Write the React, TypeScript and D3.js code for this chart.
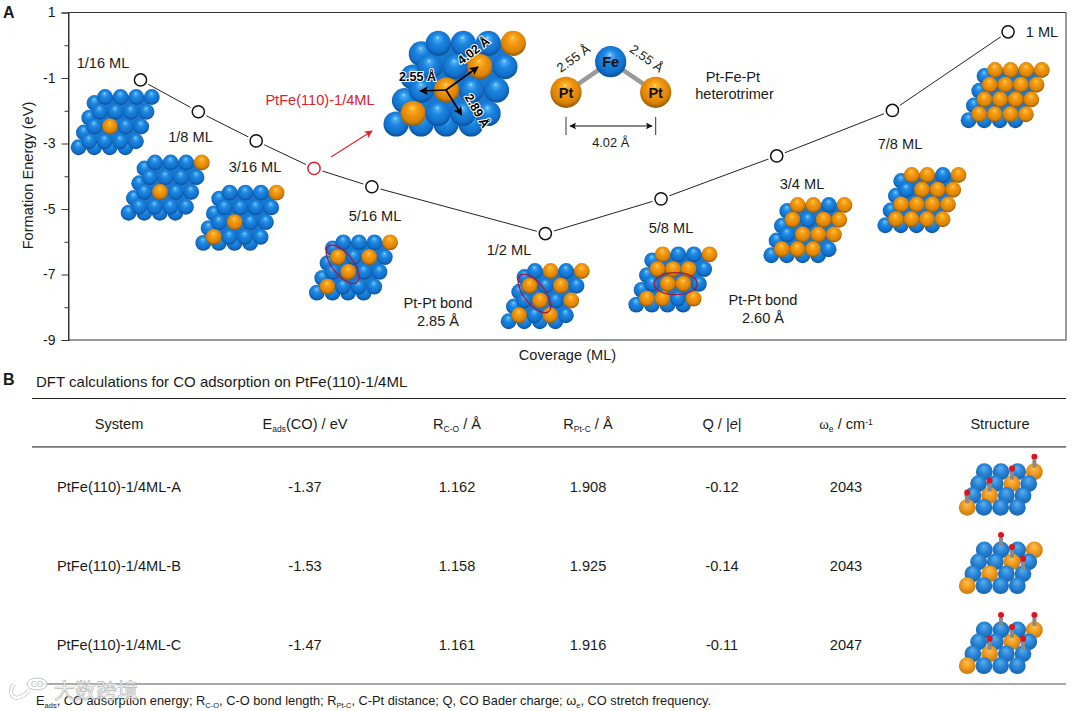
import React, { useEffect, useRef } from 'react';
import * as d3 from 'd3';

const width = 1080;
const height = 711;
const font = '"Liberation Sans", Arial, sans-serif';
const textSize = 14.6;

// Panel A data
const coverage = [1 / 16, 1 / 8, 3 / 16, 1 / 4, 5 / 16, 1 / 2, 5 / 8, 3 / 4, 7 / 8, 1];
const formationEnergy = [-1.06, -2.03, -2.92, -3.76, -4.32, -5.75, -4.69, -3.38, -1.99, 0.41];
const highlightCoverage = 1 / 4;
const yTicks = [1, 0, -1, -2, -3, -4, -5, -6, -7, -8, -9];

// Panel B data
const tableHeaders = ['System', 'Eads(CO) / eV', 'RC-O / Å', 'RPt-C / Å', 'Q / |e|', 'ωe / cm-1', 'Structure'];
const systems = ['PtFe(110)-1/4ML-A', 'PtFe(110)-1/4ML-B', 'PtFe(110)-1/4ML-C'];
const eads = ['-1.37', '-1.53', '-1.47'];
const rCO = ['1.162', '1.158', '1.161'];
const rPtC = ['1.908', '1.925', '1.916'];
const charge = ['-0.12', '-0.14', '-0.11'];
const omega = ['2043', '2043', '2047'];

// Which cells [row, col] of the 4x4 surface hold a Pt atom
type Cell = [number, number];
const pt116: Cell[] = [[2, 1]];
const pt18: Cell[] = [[0, 3], [2, 1]];
const pt316: Cell[] = [[0, 3], [2, 1], [3, 0]];
const pt14: Cell[] = [[0, 3], [1, 2], [2, 1], [3, 0]];
const pt516: Cell[] = [[0, 3], [1, 0], [1, 2], [2, 1], [3, 0]];
const pt12: Cell[] = [[0, 1], [0, 3], [1, 0], [1, 2], [2, 1], [2, 3], [3, 0], [3, 2]];
const pt58: Cell[] = [[0, 0], [0, 3], [1, 0], [1, 1], [1, 2], [2, 1], [2, 2], [3, 0], [3, 1], [3, 3]];
const pt34: Cell[] = [[0, 0], [0, 1], [0, 3], [1, 0], [1, 2], [1, 3], [2, 1], [2, 2], [2, 3], [3, 0], [3, 1], [3, 2]];
const pt78: Cell[] = [[0, 0], [0, 1], [0, 3], [1, 1], [1, 2], [1, 3], [2, 0], [2, 1], [2, 2], [2, 3], [3, 0], [3, 1], [3, 2], [3, 3]];
const pt1: Cell[] = d3.range(16).map((i) => [Math.floor(i / 4), i % 4] as Cell);

// Adsorbed CO sites for the three table structures
const coSitesA: Cell[] = [[0, 3], [1, 2], [2, 1], [3, 0]];
const coSitesB: Cell[] = [[0, 1], [1, 2], [2, 3]];
const coSitesC: Cell[] = [[0, 1], [0, 3], [1, 2], [2, 1], [2, 3]];

const App: React.FC = () => {
  const ref = useRef<SVGSVGElement | null>(null);

  useEffect(() => {
    if (!ref.current) return;
    const svg = d3.select(ref.current);
    svg.selectAll('*').remove();
    svg.attr('viewBox', `0 0 ${width} ${height}`);
    svg.style('font-family', font);

    const defs = svg.append('defs');

    // sphere shading
    const sphereGrad = (id: string, stops: [number, string][]) => {
      const g = defs.append('radialGradient').attr('id', id)
        .attr('cx', 0.5).attr('cy', 0.44).attr('r', 0.56)
        .attr('fx', 0.47).attr('fy', 0.27);
      stops.forEach(([o, c]) => g.append('stop').attr('offset', o).attr('stop-color', c));
    };
    sphereGrad('blue', [[0, '#c8ecff'], [0.1, '#4fb0f4'], [0.4, '#1c86e0'], [0.78, '#1270cc'], [1, '#0a4f96']]);
    sphereGrad('orange', [[0, '#ffeeb0'], [0.1, '#fcb62e'], [0.4, '#f39810'], [0.78, '#dc8206'], [1, '#8f5a06']]);
    sphereGrad('flatBlue', [[0, '#5cb0ee'], [0.5, '#2b86d8'], [1, '#1565b0']]);
    sphereGrad('flatOrange', [[0, '#fbc25a'], [0.5, '#f39d22'], [1, '#c97a0c']]);

    const marker = (id: string, color: string, size = 6) => {
      defs.append('marker').attr('id', id)
        .attr('viewBox', '0 0 10 10').attr('refX', 9).attr('refY', 5)
        .attr('markerUnits', 'userSpaceOnUse')
        .attr('markerWidth', size).attr('markerHeight', size).attr('orient', 'auto-start-reverse')
        .append('path').attr('d', 'M0,0L10,5L0,10L2.5,5Z').attr('fill', color);
    };
    marker('arrBlack', '#000', 9);
    marker('arrRed', '#e0202a', 8);
    marker('arrThin', '#111', 7);

    // ---- Panel A axes ----
    const x = d3.scaleLinear().domain([-0.0153, 1.0626]).range([68.5, 1066]);
    const y = d3.scaleLinear().domain([-9, 1]).range([340, 12.5]);

    svg.append('path').attr('d', 'M1066,12.5H68.5V340H1066')
      .attr('fill', 'none').attr('stroke', '#333').attr('stroke-width', 1);
    svg.append('line').attr('x1', 1066).attr('x2', 1066).attr('y1', 12).attr('y2', 340.5)
      .attr('stroke', '#777').attr('stroke-width', 1.5);

    const axis = d3.axisLeft(y).tickValues(yTicks).tickSize(7).tickPadding(6)
      .tickFormat((d) => (+d % 2 !== 0 ? String(d) : ''));
    const gAxis = svg.append('g').attr('transform', 'translate(68.5,0)').call(axis);
    gAxis.select('.domain').attr('stroke', '#333');
    gAxis.selectAll('.tick line').attr('stroke', '#333')
      .attr('x2', (d: any) => (+d % 2 !== 0 ? -7 : -4));
    gAxis.selectAll('.tick text').attr('fill', '#1a1a1a').style('font-size', '14px').style('font-family', font);

    const label = (
      txt: string, px: number, py: number, size = textSize,
      anchor = 'middle', color = '#1a1a1a',
    ) => svg.append('text').attr('x', px).attr('y', py).attr('text-anchor', anchor)
      .attr('fill', color).style('font-size', `${size}px`).text(txt);

    label('A', 3, 18, 16, 'start').style('font-weight', 'bold');
    label('B', 3, 385, 16, 'start').style('font-weight', 'bold');
    svg.append('text').attr('transform', 'translate(32.5,175.5) rotate(-90)').attr('text-anchor', 'middle')
      .attr('fill', '#1a1a1a').style('font-size', `${textSize}px`).text('Formation Energy (eV)');
    label('Coverage (ML)', 567.5, 360);

    // ---- curve ----
    const pts = coverage.map((c, i) => [c, formationEnergy[i]] as [number, number]);
    const line = d3.line<[number, number]>().x((d) => x(d[0])).y((d) => y(d[1]));
    svg.append('path').datum(pts).attr('d', line).attr('fill', 'none').attr('stroke', '#222').attr('stroke-width', 1);
    svg.append('g').selectAll('circle.halo').data(pts).join('circle')
      .attr('cx', (d) => x(d[0])).attr('cy', (d) => y(d[1])).attr('r', 9).attr('fill', '#fff');
    svg.append('g').selectAll('circle.pt').data(pts).join('circle')
      .attr('cx', (d) => x(d[0])).attr('cy', (d) => y(d[1])).attr('r', 6.1)
      .attr('fill', '#fff').attr('stroke-width', 1.5)
      .attr('stroke', (d) => (d[0] === highlightCoverage ? '#e0202a' : '#111'));

    // ---- atom slabs ----
    const drawSlab = (
      ox: number, oy: number, pt: Cell[],
      { a = 15.6, bx = -5.3, by = 14.75, r = 7.9, dx = -10.5, dy = 6, under = true, flat = false } = {},
    ) => {
      const g = svg.append('g');
      const cells = d3.cross(d3.range(4), d3.range(4));
      const isPt = (row: number, col: number) => pt.some((c) => c[0] === row && c[1] === col);
      if (under) {
        // only the left column and the bottom row of the lower layer really show
        g.selectAll('circle.under').data(cells).join('circle')
          .attr('cx', ([row, col]) => ox + dx + col * a + row * bx)
          .attr('cy', ([row]) => oy + dy + row * by)
          .attr('r', r)
          .attr('fill', ([row, col]) => (col === 0 || row === 3 ? 'url(#blue)' : '#1a78cf'));
      }
      g.selectAll('circle.top').data(cells).join('circle')
        .attr('cx', ([row, col]) => ox + col * a + row * bx)
        .attr('cy', ([row]) => oy + row * by)
        .attr('r', r)
        .attr('fill', ([row, col]) => (flat
          ? (isPt(row, col) ? 'url(#flatOrange)' : 'url(#flatBlue)')
          : (isPt(row, col) ? 'url(#orange)' : 'url(#blue)')));
    };

    drawSlab(105, 97, pt116);
    drawSlab(155, 162.5, pt18);
    drawSlab(229.7, 192.7, pt316);
    drawSlab(343.3, 242.3, pt516);
    drawSlab(535, 271, pt12);
    drawSlab(662.7, 254.3, pt58);
    drawSlab(797.7, 205, pt34);
    drawSlab(911.7, 175, pt78);
    drawSlab(995, 70, pt1);

    // red ellipses marking the Pt-Pt bonds
    const ring = (cx: number, cy: number, rx: number, ry: number, angle: number) =>
      svg.append('ellipse').attr('cx', cx).attr('cy', cy).attr('rx', rx).attr('ry', ry)
        .attr('transform', `rotate(${angle} ${cx} ${cy})`)
        .attr('fill', 'none').attr('stroke', '#a5173f').attr('stroke-width', 1.3);
    ring(342.7, 264.3, 23, 10.5, 52);
    ring(534.5, 293.5, 23, 10.5, 52);
    ring(675.7, 283.7, 21.5, 11, 0);

    // coverage labels
    label('1/16 ML', 103, 68);
    label('1/8 ML', 190.5, 142);
    label('3/16 ML', 255, 172);
    label('5/16 ML', 375, 221);
    label('1/2 ML', 509, 255);
    label('5/8 ML', 671, 232.5);
    label('3/4 ML', 802, 189);
    label('7/8 ML', 900, 149);
    label('1 ML', 1042, 37);
    label('Pt-Pt bond', 438, 308);
    label('2.85 Å', 438, 326);
    label('Pt-Pt bond', 763, 305);
    label('2.60 Å', 763, 323);

    label('PtFe(110)-1/4ML', 320, 105, textSize, 'middle', '#e0202a');
    svg.append('line').attr('x1', 331).attr('y1', 157).attr('x2', 372).attr('y2', 131)
      .attr('stroke', '#e0202a').attr('stroke-width', 1.1).attr('marker-end', 'url(#arrRed)');

    // ---- enlarged PtFe(110)-1/4ML slab ----
    drawSlab(438.3, 43.3, pt14, { a: 25, bx: -8.4, by: 23.4, r: 12.6, dx: -17, dy: 10.5 });
    const centre: [number, number] = [446, 90];
    const vectors: [number, number][] = [[478, 67], [420, 91], [461.7, 115]];
    vectors.forEach(([tx, ty]) => {
      svg.append('line').attr('x1', centre[0]).attr('y1', centre[1]).attr('x2', tx).attr('y2', ty)
        .attr('stroke', '#000').attr('stroke-width', 1.7).attr('marker-end', 'url(#arrBlack)');
    });
    const bold = (txt: string, px: number, py: number, angle: number) =>
      svg.append('text').attr('transform', `translate(${px},${py}) rotate(${angle})`)
        .attr('text-anchor', 'middle').attr('fill', '#000').attr('stroke', '#fff').attr('stroke-width', 2)
        .style('paint-order', 'stroke').style('font-weight', 'bold').style('font-size', '12.5px').text(txt);
    bold('2.55 Å', 417.5, 81, 0);
    bold('4.02 Å', 476, 54, -38);
    bold('2.89 Å', 473.5, 113, 60);

    // ---- Pt-Fe-Pt trimer ----
    const fe: [number, number] = [610.7, 61.7];
    const ptL: [number, number] = [566, 92.3];
    const ptR: [number, number] = [655.7, 92.3];
    [ptL, ptR].forEach((p) => {
      svg.append('line').attr('x1', fe[0]).attr('y1', fe[1]).attr('x2', p[0]).attr('y2', p[1])
        .attr('stroke', '#9a9a9a').attr('stroke-width', 4.5);
    });
    const atom = (p: [number, number], fill: string, txt: string) => {
      svg.append('circle').attr('cx', p[0]).attr('cy', p[1]).attr('r', 15.6).attr('fill', fill);
      svg.append('text').attr('x', p[0]).attr('y', p[1] + 5.5).attr('text-anchor', 'middle')
        .attr('fill', '#111').style('font-weight', 'bold').style('font-size', '14.5px').text(txt);
    };
    atom(fe, 'url(#blue)', 'Fe');
    atom(ptL, 'url(#orange)', 'Pt');
    atom(ptR, 'url(#orange)', 'Pt');
    svg.append('text').attr('transform', 'translate(576,62) rotate(-36)').attr('text-anchor', 'middle')
      .attr('fill', '#1a1a1a').style('font-size', '13px').text('2.55 Å');
    svg.append('text').attr('transform', 'translate(644,62) rotate(36)').attr('text-anchor', 'middle')
      .attr('fill', '#1a1a1a').style('font-size', '13px').text('2.55 Å');
    [ptL[0], ptR[0]].forEach((vx) => {
      svg.append('line').attr('x1', vx).attr('y1', 117).attr('x2', vx).attr('y2', 135)
        .attr('stroke', '#333').attr('stroke-width', 1);
    });
    svg.append('line').attr('x1', 570).attr('y1', 126).attr('x2', 652).attr('y2', 126)
      .attr('stroke', '#111').attr('stroke-width', 1)
      .attr('marker-end', 'url(#arrThin)').attr('marker-start', 'url(#arrThin)');
    label('4.02 Å', 610.7, 147, 12.8);
    label('Pt-Fe-Pt', 733, 82, textSize);
    label('heterotrimer', 734.5, 98.5, textSize);

    // ---- Panel B table ----
    label('DFT calculations for CO adsorption on PtFe(110)-1/4ML', 36, 387, 15, 'start');
    const rule = (ry: number, color: string, w: number) =>
      svg.append('line').attr('x1', 32).attr('x2', 1066).attr('y1', ry).attr('y2', ry)
        .attr('stroke', color).attr('stroke-width', w);
    rule(398.5, '#222', 1.1);
    rule(446.8, '#777', 1.7);
    rule(684, '#555', 1.2);

    const columnX = [119, 305, 457, 588, 722, 846, 1000];
    const headerY = 429;
    const sub = (sel: any, base: string, s: string, rest: string) => {
      sel.append('tspan').text(base);
      sel.append('tspan').attr('dy', 3).style('font-size', '8.5px').text(s);
      sel.append('tspan').attr('dy', -3).text(rest);
    };
    tableHeaders.forEach((h, i) => {
      const t = label('', columnX[i], headerY);
      if (i === 1) sub(t, 'E', 'ads', '(CO) / eV');
      else if (i === 2) sub(t, 'R', 'C-O', ' / Å');
      else if (i === 3) sub(t, 'R', 'Pt-C', ' / Å');
      else if (i === 4) {
        t.append('tspan').text('Q / |');
        t.append('tspan').style('font-style', 'italic').text('e');
        t.append('tspan').text('|');
      } else if (i === 5) {
        t.append('tspan').style('font-family', '"Liberation Serif", serif').text('ω');
        t.append('tspan').attr('dy', 3).style('font-size', '8.5px').text('e');
        t.append('tspan').attr('dy', -3).text(' / cm');
        t.append('tspan').attr('dy', -4).style('font-size', '8.5px').text('-1');
      } else t.text(h);
    });

    const rowY = d3.scalePoint<string>().domain(systems).range([492, 650]);
    const columns = [systems, eads, rCO, rPtC, charge, omega];
    columns.forEach((col, c) => {
      col.forEach((v, r) => label(v, columnX[c], rowY(systems[r]) as number));
    });

    // table structures
    const drawAdsorbed = (ox: number, oy: number, sites: Cell[]) => {
      const a = 16.7;
      const bx = -5.7;
      const by = 11.9;
      drawSlab(ox, oy, pt14, { a, bx, by, r: 8.4, under: false, flat: true });
      sites.forEach(([row, col]) => {
        const px = ox + col * a + row * bx;
        const py = oy + row * by;
        svg.append('line').attr('x1', px).attr('y1', py - 4).attr('x2', px).attr('y2', py - 12)
          .attr('stroke', '#8a8a8a').attr('stroke-width', 4);
        svg.append('circle').attr('cx', px).attr('cy', py - 15).attr('r', 3).attr('fill', '#e0141c');
      });
    };
    drawAdsorbed(984.3, 471.7, coSitesA);
    drawAdsorbed(984.3, 550, coSitesB);
    drawAdsorbed(984.3, 630, coSitesC);

    // footnote
    const note = svg.append('text').attr('x', 36).attr('y', 705).attr('fill', '#1a1a1a').style('font-size', '12.8px');
    const noteParts: [string, boolean][] = [
      ['E', false], ['ads', true], [', CO adsorption energy; R', false], ['C-O', true],
      [', C-O bond length; R', false], ['Pt-C', true], [', C-Pt distance; Q, CO Bader charge; ', false],
      ['ω', false], ['e', true], [', CO stretch frequency.', false],
    ];
    let lowered = false;
    noteParts.forEach(([txt, isSub]) => {
      const ts = note.append('tspan').text(txt);
      if (isSub) ts.style('font-size', '7.5px');
      if (isSub !== lowered) ts.attr('dy', isSub ? 2.5 : -2.5);
      lowered = isSub;
    });

    // site watermark
    const wm = svg.append('g');
    wm.append('text').attr('x', 54).attr('y', 698).attr('fill', '#fff').attr('fill-opacity', 0.85)
      .attr('stroke', '#b8b8b8').attr('stroke-width', 0.7)
      .style('font-family', '"Noto Sans CJK SC"').style('font-size', '21px').text('大数跨境');
    wm.append('path').attr('d', 'M14,684 C8,692 12,700 20,697 C24,696 27,693 29,690')
      .attr('fill', 'none').attr('stroke', '#bdbdbd').attr('stroke-width', 4);
    wm.append('path').attr('d', 'M14,684 C8,692 12,700 20,697 C24,696 27,693 29,690')
      .attr('fill', 'none').attr('stroke', '#fff').attr('stroke-width', 2.6);
    wm.append('ellipse').attr('cx', 37).attr('cy', 684).attr('rx', 10).attr('ry', 6)
      .attr('fill', '#fff').attr('fill-opacity', 0.85).attr('stroke', '#c4c4c4').attr('stroke-width', 1);
    wm.append('text').attr('x', 37).attr('y', 687).attr('text-anchor', 'middle').attr('fill', '#c0c0c0')
      .style('font-size', '8.5px').text('CO');
  }, []);

  return (
    <svg
      ref={ref}
      width={width}
      height={height}
      style={{ position: 'absolute', left: 0, top: 0, background: '#fff' }}
      aria-label="Formation energy vs coverage and CO adsorption table"
    />
  );
};

export default App;
